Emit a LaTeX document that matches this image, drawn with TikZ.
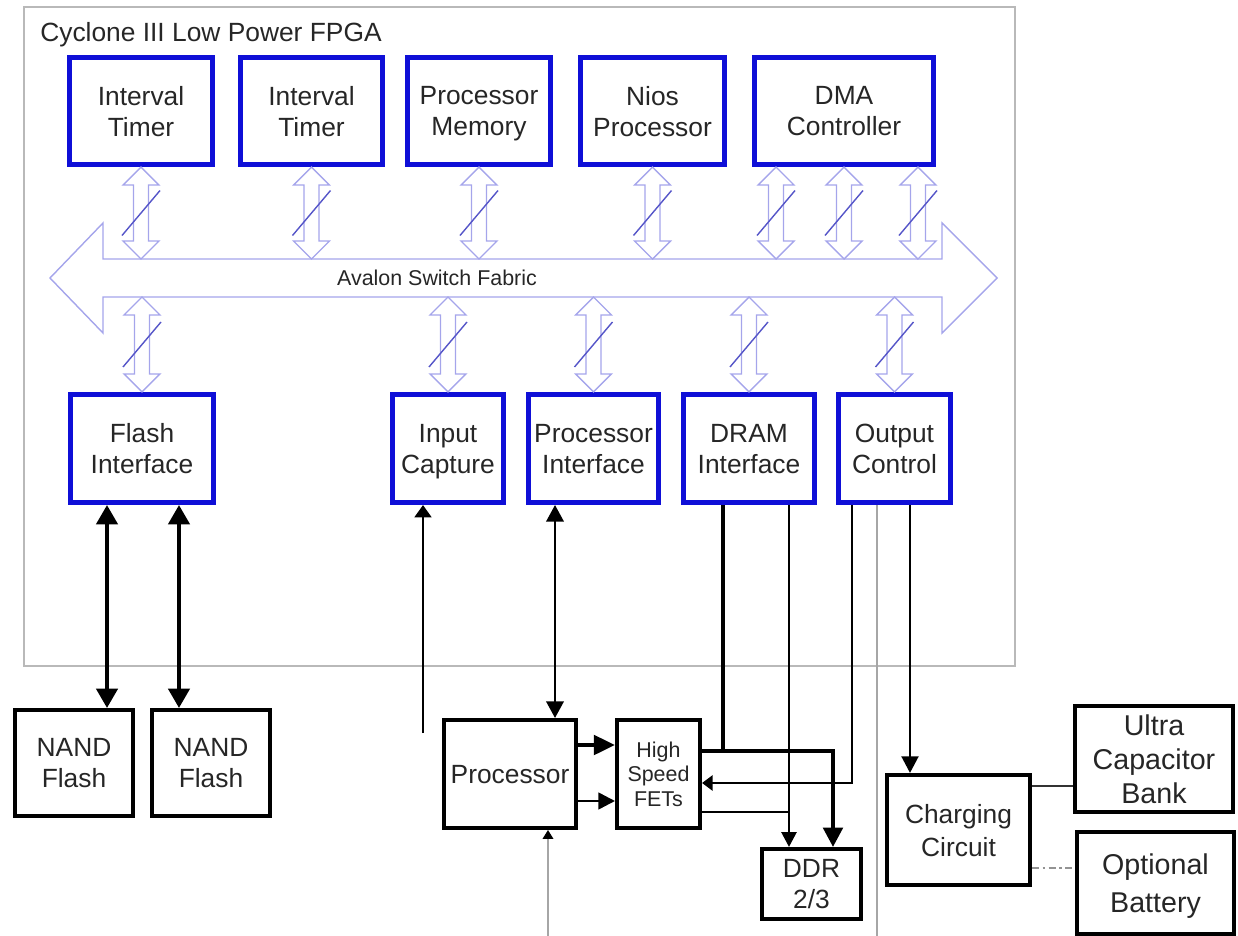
\documentclass[tikz,border=0pt]{standalone}
\usepackage{fontspec}
\setmainfont{Liberation Sans}
\usetikzlibrary{arrows.meta,calc}

\definecolor{fpgablue}{RGB}{15,15,215}
\definecolor{buslav}{RGB}{165,165,235}
\definecolor{slashblue}{RGB}{85,85,200}

\newcommand{\buslink}[2]{%
  \draw[linkline] let \p1=(#1), \p2=(#2) in
    (\x1,\y1) -- (\x1+0.36cm,\y1-0.36cm) -- (\x1+0.15cm,\y1-0.36cm)
    -- (\x1+0.15cm,\y2+0.36cm) -- (\x1+0.36cm,\y2+0.36cm) -- (\x1,\y2)
    -- (\x1-0.36cm,\y2+0.36cm) -- (\x1-0.15cm,\y2+0.36cm)
    -- (\x1-0.15cm,\y1-0.36cm) -- (\x1-0.36cm,\y1-0.36cm) -- cycle;
  \draw[linkslash] let \p1=(#1), \p2=(#2) in
    (\x1-0.38cm,{0.5*\y1+0.5*\y2-0.45cm}) -- (\x1+0.38cm,{0.5*\y1+0.5*\y2+0.45cm});}

\begin{document}
\begin{tikzpicture}[x=0.02cm, y=-0.02cm, text=black!85,
  font=\fontsize{15}{17.6}\selectfont,
  fpgabox/.style={draw=fpgablue, line width=2.6pt, align=center, inner sep=1pt,
    text depth=0pt, minimum height=2.15cm},
  extbox/.style={draw=black, line width=2.3pt, align=center, inner sep=1pt,
    text depth=0pt},
  linkline/.style={draw=buslav, line width=0.8pt},
  linkslash/.style={draw=slashblue, line width=0.8pt},
  heavy/.style={line width=2.3pt},
  wire/.style={line width=1.5pt},
  greywire/.style={draw=gray!70, line width=0.8pt}]
\useasboundingbox (0,0) rectangle (1238,936);

% FPGA outline
\draw[gray!55, line width=0.8pt] (24,7) rectangle (1015,666);
\node[anchor=base west, inner sep=0pt] (title) at (40,42) {Cyclone III Low Power FPGA};

% top row
\node[fpgabox, minimum width=2.87cm] (timerA) at (141,111) {Interval\\Timer};
\node[fpgabox, minimum width=2.85cm] (timerB) at (311.5,111) {Interval\\Timer};
\node[fpgabox, minimum width=2.87cm] (pmem) at (479,111) {Processor\\Memory};
\node[fpgabox, minimum width=2.89cm] (nios) at (652.5,111) {Nios\\Processor};
\node[fpgabox, minimum width=3.59cm] (dma) at (844,111) {DMA\\Controller};

% bottom row
\node[fpgabox, minimum width=2.87cm, minimum height=2.17cm] (flashif) at (142,448.5) {Flash\\Interface};
\node[fpgabox, minimum width=2.23cm, minimum height=2.17cm] (incap) at (448,448.5) {Input\\Capture};
\node[fpgabox, minimum width=2.61cm, minimum height=2.17cm] (procif) at (593.5,448.5) {Processor\\Interface};
\node[fpgabox, minimum width=2.63cm, minimum height=2.17cm] (dramif) at (749,448.5) {DRAM\\Interface};
\node[fpgabox, minimum width=2.25cm, minimum height=2.17cm] (outctl) at (894.5,448.5) {Output\\Control};

% switch fabric
\coordinate (bustop) at (0,259);
\coordinate (busbot) at (0,297);
\draw[linkline] (50,278) -- (103,223) -- (103,259) -- (942,259) -- (942,223)
  -- (997,278) -- (942,333) -- (942,297) -- (103,297) -- (103,333) -- cycle;
\node[font=\fontsize{12.2}{14}\selectfont] (fabric) at (437,278) {Avalon Switch Fabric};

\coordinate (dmaA) at ([xshift=-1.36cm]dma.south);
\coordinate (dmaB) at (dma.south);
\coordinate (dmaC) at ([xshift=1.48cm]dma.south);
\foreach \lk in {timerA.south,timerB.south,pmem.south,nios.south,dmaA,dmaB,dmaC}
  {\buslink{\lk}{\lk |- bustop}}
\foreach \lk in {flashif,incap,procif,dramif,outctl}
  {\buslink{\lk.north |- busbot}{\lk.north}}

% outside the FPGA
\node[extbox, minimum width=2.36cm, minimum height=2.12cm] (nandA) at (74,763) {NAND\\Flash};
\node[extbox, minimum width=2.36cm, minimum height=2.12cm] (nandB) at (211,763) {NAND\\Flash};
\node[extbox, minimum width=2.64cm, minimum height=2.16cm] (proc) at (510,774) {Processor};
\node[extbox, minimum width=1.66cm, minimum height=2.16cm,
  font=\fontsize{12.2}{13.9}\selectfont] (fets) at (658.5,774) {High\\Speed\\FETs};
\node[extbox, minimum width=1.98cm, minimum height=1.40cm] (ddr) at (811.5,884) {DDR\\2/3};
\node[extbox, minimum width=2.86cm, minimum height=2.20cm,
  font=\fontsize{15}{18.8}\selectfont] (charge) at (958.5,830) {Charging\\Circuit};
\node[extbox, minimum width=3.16cm, minimum height=2.12cm,
  font=\fontsize{16.3}{19.3}\selectfont] (ucap) at (1154,759) {Ultra\\Capacitor\\Bank};
\node[extbox, minimum width=3.14cm, minimum height=2.04cm,
  font=\fontsize{16.3}{22}\selectfont] (batt) at (1155.5,883) {Optional\\Battery};

% flash links
\coordinate (flA) at ([xshift=-0.7cm]flashif.south);
\coordinate (flB) at ([xshift=0.74cm]flashif.south);
\draw[heavy, {Triangle[length=11pt,width=12pt]}-{Triangle[length=11pt,width=12pt]}] (flA) -- (flA |- nandA.north);
\draw[heavy, {Triangle[length=11pt,width=12pt]}-{Triangle[length=11pt,width=12pt]}] (flB) -- (flB |- nandB.north);

% capture and processor
\coordinate (capfoot) at (423,733);
\draw[wire, -{Triangle[length=7pt,width=9.5pt]}] (capfoot) -- (capfoot |- incap.south);
\coordinate (pifA) at ([xshift=-0.77cm]procif.south);
\draw[line width=1.2pt, {Triangle[length=9.5pt,width=10pt]}-{Triangle[length=9.5pt,width=10pt]}] (pifA) -- (pifA |- proc.north);
\coordinate (pA) at ([yshift=0.58cm]proc.east);
\coordinate (pB) at ([yshift=-0.54cm]proc.east);
\draw[heavy, -{Triangle[length=12pt,width=11pt]}] (pA) -- (pA -| fets.west);
\draw[wire, -{Triangle[length=9.5pt,width=9.5pt]}] (pB) -- (pB -| fets.west);

% DRAM and FETs
\coordinate (fetsA) at ([yshift=0.46cm]fets.east);
\coordinate (fetsB) at ([yshift=-0.18cm]fets.east);
\coordinate (fetsC) at ([yshift=-0.76cm]fets.east);
\coordinate (ddrA) at ([xshift=0.43cm]ddr.north);
\coordinate (drA) at ([xshift=-0.52cm]dramif.south);
\coordinate (drB) at ([xshift=0.8cm]dramif.south);
\draw[heavy, -{Triangle[length=11pt,width=11pt]}] (fetsA) -| (ddrA);
\draw[heavy] (drA) -- (drA |- fetsA);
\draw[line width=1.6pt, -{Triangle[length=8.5pt,width=8.5pt]}] (drB) -- (drB |- ddr.north);
\draw[line width=1.6pt] (fetsC) -- (fetsC -| drB);

% output control
\coordinate (ocA) at ([xshift=-0.85cm]outctl.south);
\coordinate (ocB) at ([xshift=-0.35cm]outctl.south);
\coordinate (ocC) at ([xshift=0.31cm]outctl.south);
\coordinate (pageend) at (0,936);
\draw[line width=1.4pt, -{Triangle[length=6pt,width=8.5pt]}] (ocA) |- (fetsB);
\draw[greywire] (ocB) -- (ocB |- pageend);
\draw[line width=1.7pt, -{Triangle[length=9.5pt,width=9.5pt]}] (ocC) -- (ocC |- charge.north);
\coordinate (procfoot) at ([xshift=0.76cm]proc.south);
\draw[greywire, -{Triangle[length=5pt,width=6pt,black]}] (procfoot |- pageend) -- (procfoot);

% storage
\coordinate (ucapin) at ([yshift=-0.54cm]ucap.west);
\coordinate (battin) at ([yshift=0.3cm]batt.west);
\draw[line width=1pt, black!80] (ucapin -| charge.east) -- (ucapin);
\draw[line width=1.4pt, gray!85, dash pattern=on 4pt off 2pt on 1.5pt off 2pt] (battin -| charge.east) -- (battin);
\end{tikzpicture}
\end{document}
